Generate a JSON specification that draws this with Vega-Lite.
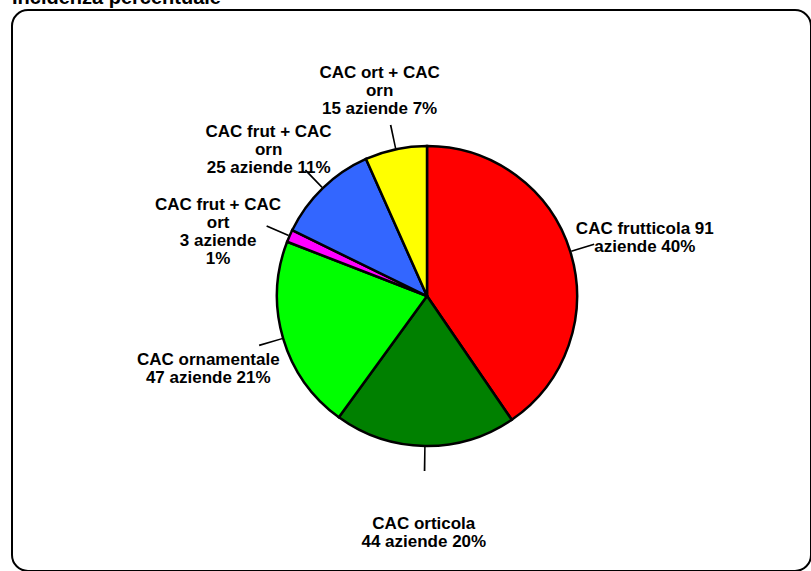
{
  "$schema": "https://vega.github.io/schema/vega-lite/v6.json",
  "width": 799,
  "height": 561,
  "autosize": "none",
  "padding": {"left": 12, "top": 10, "right": 0, "bottom": 0},
  "background": "white",
  "view": {"stroke": "black", "strokeWidth": 2, "cornerRadius": 16, "fill": "white"},
  "title": {
    "text": "Incidenza percentuale",
    "anchor": "start",
    "orient": "top",
    "frame": "group",
    "offset": 0,
    "dy": 14,
    "baseline": "alphabetic",
    "font": "Liberation Sans",
    "fontSize": 20,
    "fontWeight": "bold",
    "color": "black"
  },
  "data": {
    "values": [
      {"cat": "CAC frutticola", "n": 91, "label": "CAC frutticola 91\naziende 40%"},
      {"cat": "CAC orticola", "n": 44, "label": "CAC orticola\n44 aziende 20%"},
      {"cat": "CAC ornamentale", "n": 47, "label": "CAC ornamentale\n47 aziende 21%"},
      {"cat": "CAC frut + CAC ort", "n": 3, "label": "CAC frut + CAC\nort\n3 aziende\n1%"},
      {"cat": "CAC frut + CAC orn", "n": 25, "label": "CAC frut + CAC\norn\n25 aziende 11%"},
      {"cat": "CAC ort + CAC orn", "n": 15, "label": "CAC ort + CAC\norn\n15 aziende 7%"}
    ]
  },
  "transform": [
    {"window": [{"op": "row_number", "as": "k"}, {"op": "sum", "field": "n", "as": "cum"}]},
    {"calculate": "datum.cum - datum.n / 2 - 0.18", "as": "lo"},
    {"calculate": "datum.cum - datum.n / 2 + 0.18", "as": "hi"}
  ],
  "layer": [
    {
      "mark": {"type": "arc", "radius": 150, "stroke": "black", "strokeWidth": 2.5, "xOffset": 15.5, "yOffset": 5.5},
      "encoding": {
        "theta": {"field": "n", "type": "quantitative", "stack": true},
        "order": {"field": "k", "type": "quantitative"},
        "color": {
          "field": "cat",
          "type": "nominal",
          "scale": {
            "domain": ["CAC frutticola", "CAC orticola", "CAC ornamentale", "CAC frut + CAC ort", "CAC frut + CAC orn", "CAC ort + CAC orn"],
            "range": ["#FF0000", "#008000", "#00FF00", "#FF00FF", "#3366FF", "#FFFF00"]
          },
          "legend": null
        }
      }
    },
    {
      "mark": {"type": "arc", "radius": 151, "radius2": 175, "fill": "black", "xOffset": 15.5, "yOffset": 5.5},
      "encoding": {
        "theta": {"field": "lo", "type": "quantitative", "stack": null},
        "theta2": {"field": "hi"}
      }
    },
    {
      "mark": {"type": "text", "radius": 228, "xOffset": 15.5, "yOffset": 5.5, "font": "Liberation Sans", "fontSize": 17, "fontWeight": "bold", "lineBreak": "\n", "lineHeight": 18, "align": "center", "baseline": "middle", "color": "black"},
      "encoding": {
        "theta": {"field": "n", "type": "quantitative", "stack": true},
        "order": {"field": "k", "type": "quantitative"},
        "text": {"field": "label", "type": "nominal"}
      }
    }
  ]
}
